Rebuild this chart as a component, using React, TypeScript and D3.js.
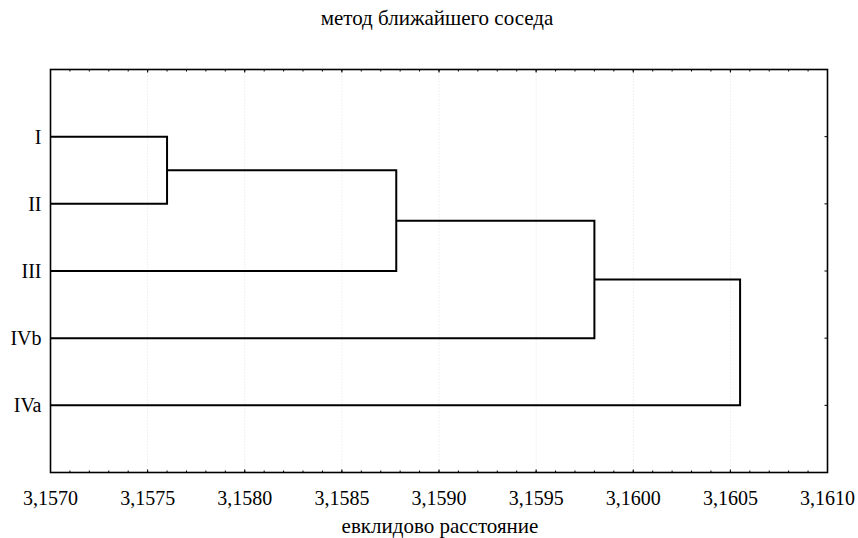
import React, { useEffect, useRef } from 'react';
import * as d3 from 'd3';

const leaves = ['I', 'II', 'III', 'IVb', 'IVa'];
// linkage distances, in order of merging (single linkage)
const mergeHeights = [3.15760, 3.15878, 3.15980, 3.16055];
const xTicks = [3.1570, 3.1575, 3.1580, 3.1585, 3.1590, 3.1595, 3.1600, 3.1605, 3.1610];

const App = () => {
  const svgRef = useRef<SVGSVGElement>(null);

  useEffect(() => {
    const svg = d3.select(svgRef.current);
    svg.selectAll('*').remove();

    const W = 858, H = 538;
    const margin = { top: 69.5, right: 30.5, bottom: 65.5, left: 50.5 };
    const width = W - margin.left - margin.right;
    const height = H - margin.top - margin.bottom;
    const font = '"Liberation Serif", "Times New Roman", serif';

    const g = svg.append('g').attr('transform', `translate(${margin.left},${margin.top})`);

    const x = d3.scaleLinear().domain([3.1570, 3.1610]).range([0, width]);
    const y = d3.scaleLinear().domain([0, leaves.length + 1]).range([0, height]);

    // vertical dotted grid at major ticks
    g.selectAll('.grid')
      .data(xTicks.slice(1, -1))
      .enter().append('line')
      .attr('x1', d => x(d)).attr('x2', d => x(d))
      .attr('y1', 0).attr('y2', height)
      .attr('stroke', '#e2e2e2')
      .attr('stroke-width', 1)
      .attr('stroke-dasharray', '1,2');

    // minor ticks every 0.0001
    const minor = d3.range(0, 41).map(i => 3.1570 + i * 0.0001);
    [0, height].forEach((yy, k) => {
      g.selectAll(`.mt${k}`)
        .data(minor)
        .enter().append('line')
        .attr('x1', d => x(d)).attr('x2', d => x(d))
        .attr('y1', yy).attr('y2', k === 0 ? yy + 2 : yy - 2)
        .attr('stroke', '#000').attr('stroke-width', 1);
      g.selectAll(`.Mt${k}`)
        .data(xTicks)
        .enter().append('line')
        .attr('x1', d => x(d)).attr('x2', d => x(d))
        .attr('y1', yy).attr('y2', k === 0 ? yy + 3 : yy - 3)
        .attr('stroke', '#000').attr('stroke-width', 1);
    });

    // y ticks at leaves (right side, inward)
    g.selectAll('.yt')
      .data(leaves)
      .enter().append('line')
      .attr('x1', width).attr('x2', width - 3)
      .attr('y1', (d, i) => y(i + 1)).attr('y2', (d, i) => y(i + 1))
      .attr('stroke', '#000');

    // dendrogram
    const pos: number[] = leaves.map((d, i) => y(i + 1));
    const path = d3.path();
    // cluster 1: I + II
    let curY = (pos[0] + pos[1]) / 2;
    let curX = x(mergeHeights[0]);
    path.moveTo(x(3.1570), pos[0]);
    path.lineTo(curX, pos[0]);
    path.lineTo(curX, pos[1]);
    path.lineTo(x(3.1570), pos[1]);
    for (let k = 1; k < mergeHeights.length; k++) {
      const h = x(mergeHeights[k]);
      const leafY = pos[k + 1];
      path.moveTo(curX, curY);
      path.lineTo(h, curY);
      path.lineTo(h, leafY);
      path.lineTo(x(3.1570), leafY);
      curY = (curY + leafY) / 2;
      curX = h;
    }
    g.append('path')
      .attr('d', path.toString())
      .attr('fill', 'none')
      .attr('stroke', '#000')
      .attr('stroke-width', 2);

    // frame
    g.append('rect')
      .attr('width', width).attr('height', height)
      .attr('fill', 'none')
      .attr('stroke', '#000')
      .attr('stroke-width', 1.6);

    // leaf labels
    g.selectAll('.leaf')
      .data(leaves)
      .enter().append('text')
      .attr('x', -9)
      .attr('y', (d, i) => y(i + 1) + 7)
      .attr('text-anchor', 'end')
      .style('font-family', font)
      .style('font-size', '20px')
      .text(d => d);

    // x tick labels
    g.selectAll('.xl')
      .data(xTicks)
      .enter().append('text')
      .attr('x', d => x(d))
      .attr('y', height + 32.5)
      .attr('text-anchor', 'middle')
      .style('font-family', font)
      .style('font-size', '20px')
      .text(d => d.toFixed(4).replace('.', ','));

    svg.append('text')
      .attr('x', 437).attr('y', 25)
      .attr('text-anchor', 'middle')
      .style('font-family', font)
      .style('font-size', '21px')
      .text('метод ближайшего соседа');

    svg.append('text')
      .attr('x', 440).attr('y', 533)
      .attr('text-anchor', 'middle')
      .style('font-family', font)
      .style('font-size', '21px')
      .text('евклидово расстояние');
  }, []);

  return <svg ref={svgRef} width={858} height={538} style={{ display: 'block', position: 'absolute', left: 0, top: 0 }} />;
};

export default App;
